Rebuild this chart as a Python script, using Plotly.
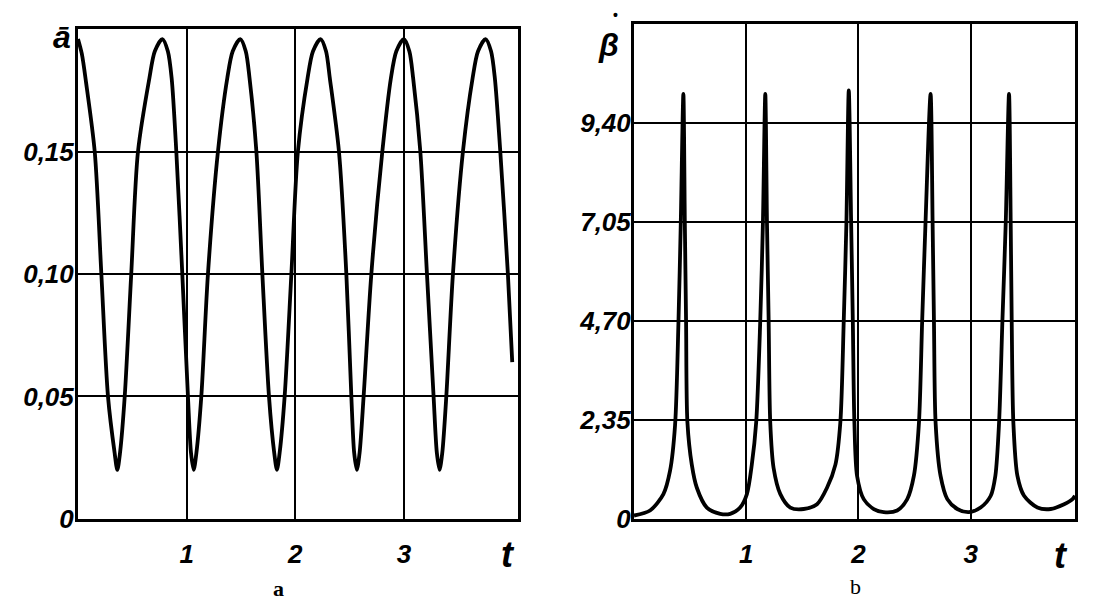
import plotly.graph_objects as go

# ---- panel a: a-bar(t) ----
t_a = [0, 0.035, 0.075, 0.154, 0.215, 0.276, 0.337, 0.362, 0.387, 0.43, 0.49, 0.552,
       0.657, 0.707, 0.777, 0.827, 0.862, 0.905, 0.96, 1.012, 1.04, 1.065, 1.09, 1.135,
       1.196, 1.288, 1.374, 1.424, 1.494, 1.544, 1.579, 1.642, 1.697, 1.758, 1.806, 1.831,
       1.856, 1.902, 1.964, 2.024, 2.113, 2.163, 2.233, 2.283, 2.318, 2.402, 2.47, 2.516,
       2.542, 2.567, 2.592, 2.629, 2.70, 2.801, 2.88, 2.93, 3.0, 3.05, 3.085, 3.151, 3.212,
       3.273, 3.303, 3.328, 3.353, 3.39, 3.451, 3.543, 3.632, 3.682, 3.752, 3.802, 3.837,
       3.887, 3.957, 3.997]
a_vals = [0.196, 0.190, 0.178, 0.15, 0.10, 0.05, 0.027, 0.020, 0.027, 0.05, 0.10, 0.15,
          0.18, 0.191, 0.196, 0.191, 0.18, 0.15, 0.10, 0.05, 0.027, 0.020, 0.027, 0.05,
          0.10, 0.15, 0.18, 0.191, 0.196, 0.191, 0.18, 0.15, 0.10, 0.05, 0.027, 0.020,
          0.027, 0.05, 0.10, 0.15, 0.18, 0.191, 0.196, 0.191, 0.18, 0.15, 0.10, 0.05,
          0.027, 0.020, 0.027, 0.05, 0.10, 0.15, 0.18, 0.191, 0.196, 0.191, 0.18, 0.15, 0.10,
          0.05, 0.027, 0.020, 0.027, 0.05, 0.10, 0.15, 0.18, 0.191, 0.196, 0.191, 0.18,
          0.15, 0.10, 0.064]

# ---- panel b: beta-dot(t) ----
t_b = [0, 0.143, 0.262, 0.321, 0.366, 0.396, 0.417, 0.44, 0.453, 0.464, 0.476, 0.515,
       0.56, 0.649, 0.768, 0.857, 0.946, 1.006, 1.05, 1.089, 1.125, 1.149, 1.17, 1.185,
       1.2, 1.214, 1.244, 1.304, 1.393, 1.512, 1.631, 1.72, 1.795, 1.839, 1.869, 1.893,
       1.914, 1.935, 1.95, 1.964, 1.988, 2.047, 2.137, 2.226, 2.345, 2.435, 2.494, 2.539,
       2.568, 2.598, 2.643, 2.661, 2.673, 2.688, 2.732, 2.792, 2.881, 2.985, 3.089, 3.179,
       3.22, 3.253, 3.283, 3.313, 3.342, 3.357, 3.366, 3.381, 3.417, 3.476, 3.595, 3.714,
       3.833, 3.908, 3.93]
b_vals = [0.08, 0.2, 0.59, 1.14, 2.23, 4.66, 7.05, 10.1, 7.05, 4.7, 2.3, 1.29,
          0.74, 0.27, 0.12, 0.12, 0.27, 0.59, 1.29, 2.3, 4.7, 7.05, 10.1, 7.05,
          4.7, 2.3, 1.21, 0.59, 0.27, 0.235, 0.35, 0.74, 1.29, 2.3, 4.7, 7.05,
          10.18, 7.05, 4.7, 2.3, 1.02, 0.47, 0.235, 0.16, 0.2, 0.47, 1.02, 2.27,
          4.7, 7.05, 10.1, 7.05, 4.7, 2.27, 1.02, 0.47, 0.235, 0.16, 0.27, 0.55,
          1.02, 2.27, 4.7, 7.05, 10.1, 7.05, 4.7, 2.27, 1.02, 0.55, 0.27, 0.235,
          0.35, 0.47, 0.55]

a_ticks = [0, 0.05, 0.10, 0.15]
a_ticktext = ["0", "0,05", "0,10", "0,15"]
b_ticks = [0, 2.35, 4.70, 7.05, 9.40]
b_ticktext = ["0", "2,35", "4,70", "7,05", "9,40"]
t_ticks = [1, 2, 3]
t_ticktext = ["1", "2", "3"]

W, H = 1099, 609
FAM = "Liberation Sans, sans-serif"
tickfont = dict(family=FAM, size=26, color="black", style="italic", weight="bold")

def px_x(p):
    return p / W

def px_y(p):
    return 1 - p / H

axis_common = dict(showline=True, mirror=True, linecolor="black", linewidth=3,
                   showgrid=True, gridcolor="black", gridwidth=2, zeroline=False,
                   ticks="", tickfont=tickfont, fixedrange=True)

fig = go.Figure()
fig.add_trace(go.Scatter(x=t_a, y=a_vals, mode="lines", xaxis="x", yaxis="y",
                         line=dict(color="black", width=3.8, shape="spline", smoothing=0.8),
                         hoverinfo="skip"))
fig.add_trace(go.Scatter(x=t_b, y=b_vals, mode="lines", xaxis="x2", yaxis="y2",
                         line=dict(color="black", width=3.8, shape="spline", smoothing=0.8),
                         hoverinfo="skip"))

fig.update_layout(
    width=W, height=H, autosize=False,
    margin=dict(l=0, r=0, t=0, b=0),
    paper_bgcolor="white", plot_bgcolor="white",
    showlegend=False,
    xaxis=dict(domain=[px_x(78), px_x(518)], range=[0, 4.05], anchor="y",
               tickvals=t_ticks, ticktext=t_ticktext, ticklabelstandoff=10, **axis_common),
    yaxis=dict(domain=[px_y(532), px_y(30)], range=[0, 0.2], anchor="x",
               tickvals=a_ticks, ticktext=a_ticktext, ticklabelstandoff=-4, **axis_common),
    xaxis2=dict(domain=[px_x(634), px_x(1075)], range=[0, 3.93], anchor="y2",
                tickvals=t_ticks, ticktext=t_ticktext, ticklabelstandoff=10, **axis_common),
    yaxis2=dict(domain=[px_y(532), px_y(25)], range=[0, 11.75], anchor="x2",
                tickvals=b_ticks, ticktext=b_ticktext, ticklabelstandoff=-5, **axis_common),
)

def label(x, y, text, size, family=FAM, italic=True, bold=True):
    font = dict(family=family, size=size, color="black")
    if italic:
        font["style"] = "italic"
    if bold:
        font["weight"] = "bold"
    fig.add_annotation(x=px_x(x), y=px_y(y), xref="paper", yref="paper", text=text,
                       showarrow=False, xanchor="center", yanchor="middle", font=font)

label(62, 38, "ā", 32)
label(608, 46, "\u03b2", 32)
label(615, 15, "•", 14, italic=False)
label(508, 568, "t", 36)
label(1061, 570, "t", 36)
label(278, 603, "a", 22, family="Liberation Serif", italic=False, bold=True)
label(855, 601, "b", 22, family="Liberation Serif", italic=False, bold=False)

fig.write_html("out.html", config={"displayModeBar": False},
               post_script="document.body.style.margin='0';document.body.style.overflow='hidden';")
